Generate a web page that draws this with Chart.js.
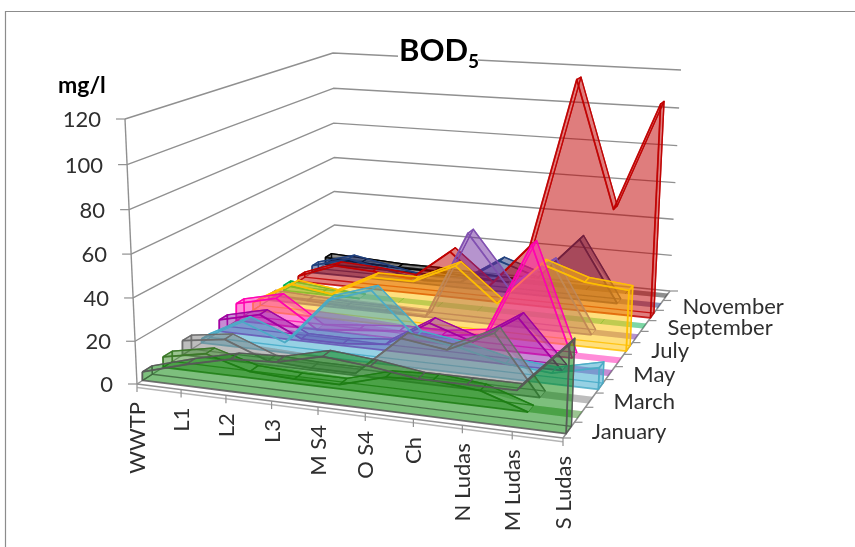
<!DOCTYPE html>
<html>
<head>
<meta charset="utf-8">
<title>BOD5</title>
<script src="https://cdn.jsdelivr.net/npm/chart.js@4"></script>
<style>
html, body { margin: 0; background: #fff; }
canvas { display: block; }
</style>
</head>
<body>
<canvas id="myChart" width="855" height="547"></canvas>
<script>
// Data
var categories = ['WWTP', 'L1', 'L2', 'L3', 'M S4', 'O S4', 'Ch', 'N Ludas', 'M Ludas', 'S Ludas'];
var monthNames = ['January', 'March', 'May', 'July', 'September', 'November'];
var valueTicks = [0, 20, 40, 60, 80, 100, 120];

var january   = [4, 10, 15, 16, 21, 19, 16, 16, 16, 38];
var february  = [5, 9, 3, 2, 2, 8, 9, 7, 0, 0];
var march     = [7, 10, 2, 1, 1, 20, 17, 27, 0, 0];
var april     = [2, 13, 5, 28, 35, 15, 12, 7, 5, 10];
var may       = [6, 11, 1, 1, 3, 16, 9, 23, 0, 0];
var june      = [9, 14, 0, 2, 4, 4, 7, 53, 0, 0];
var july      = [4, 16, 13, 24, 24, 34, 17, 39, 32, 30];
var august    = [3, 2, 1, 1, 0, 46, 20, 35, 0, 0];
var september = [3, 1, 0, 0, 0, 0, 0, 0, 0, 0];
var october   = [3, 11, 10, 8, 25, 8, 32, 120, 55, 110];
var november  = [4, 10, 6, 2, 3, 17, 10, 33, 0, 0];
var december  = [4, 3, 2, 2, 1, 0, 0, 0, 0, 0];

var allSeries = [january, february, march, april, may, june, july, august, september, october, november, december];

// Fill and border colour of each month, front to back
var seriesFill = ['0,128,0', '60,140,40', '127,127,127', '49,165,201', '143,31,168', '255,31,180',
                  '255,192,0', '112,48,160', '0,176,80', '192,0,0', '31,50,120', '38,38,38'];
var seriesLine = ['89,89,89', '60,120,40', '107,107,107', '75,172,198', '160,0,160', '255,0,176',
                  '255,192,0', '128,80,176', '0,176,80', '192,0,0', '31,63,125', '0,0,0'];

// Corners of the 3D box in the picture: front left, front right, back right, back left
var floorBox = [[137, 384], [563, 438], [670, 291], [335, 258]];
var topBox = [[125, 119], [574, 146], [681, 70], [333, 53]];
var maxValue = 120;
var bandHalf = 0.23;

// Unit square to quadrilateral mapping
function makeMap(q) {
    var dx1 = q[1][0] - q[2][0], dx2 = q[3][0] - q[2][0], sx = q[0][0] - q[1][0] + q[2][0] - q[3][0];
    var dy1 = q[1][1] - q[2][1], dy2 = q[3][1] - q[2][1], sy = q[0][1] - q[1][1] + q[2][1] - q[3][1];
    var d = dx1 * dy2 - dx2 * dy1;
    var g = (sx * dy2 - dx2 * sy) / d, h = (dx1 * sy - sx * dy1) / d;
    var a = q[1][0] - q[0][0] + g * q[1][0], b = q[3][0] - q[0][0] + h * q[3][0];
    var e = q[1][1] - q[0][1] + g * q[1][1], f = q[3][1] - q[0][1] + h * q[3][1];
    return function(u, v) {
        var w = g * u + h * v + 1;
        return [(a * u + b * v + q[0][0]) / w, (e * u + f * v + q[0][1]) / w];
    };
}
var floorMap = makeMap(floorBox);
var topMap = makeMap(topBox);

// category position (0-9), depth (0-1), value -> point on the canvas
function project(cat, depth, value) {
    var u = cat / (categories.length - 1);
    var p = floorMap(u, depth), t = topMap(u, depth), r = value / maxValue;
    var k = r / (r + (1 - r) * 1.04); // the value axis is slightly foreshortened too
    return { x: p[0] + (t[0] - p[0]) * k, y: p[1] + (t[1] - p[1]) * k };
}

var datasets = [];

function addShape(points, fill, line, width) {
    datasets.push({
        data: points,
        showLine: true,
        fill: fill ? 'shape' : false,
        backgroundColor: fill || 'transparent',
        borderColor: line || 'transparent',
        borderWidth: width,
        pointRadius: 0,
        tension: 0,
        borderJoinStyle: 'round',
        // where a month is zero there is only a flat stripe, without an outline
        segment: {
            borderColor: function(c) {
                return c.p0.raw.flat && c.p1.raw.flat ? 'transparent' : undefined;
            }
        }
    });
}

// Point that remembers whether its month has no height there
function mark(cat, depth, value, zero) {
    var p = project(cat, depth, value);
    p.flat = zero;
    return p;
}

// Outline of one area at a given depth
function faceOutline(values, depth) {
    var pts = [];
    values.forEach(function(val, i) { pts.push(mark(i, depth, val, val === 0)); });
    for (var i = values.length - 1; i >= 0; i--) {
        pts.push(mark(i, depth, 0, values[i] === 0));
    }
    pts.push(pts[0]);
    return pts;
}

// Chart.js paints the first dataset last, so go from front to back
allSeries.forEach(function(values, m) {
    var front = (m + 0.5 - bandHalf) / allSeries.length;
    var back = (m + 0.5 + bandHalf) / allSeries.length;
    var fill = 'rgba(' + seriesFill[m] + ',0.3)';
    var edge = 'rgba(' + seriesLine[m] + ',0.85)';
    var last = values.length - 1;

    addShape(faceOutline(values, front), fill, edge, 1.8);
    addShape([mark(last, front, 0, values[last] === 0), mark(last, front, values[last], values[last] === 0),
              mark(last, back, values[last], values[last] === 0), mark(last, back, 0, values[last] === 0),
              mark(last, front, 0, values[last] === 0)], fill, edge, 1.3);
    for (var i = 0; i < last; i++) {
        var z0 = values[i] === 0, z1 = values[i + 1] === 0;
        addShape([mark(i, front, values[i], z0), mark(i + 1, front, values[i + 1], z1), mark(i + 1, back, values[i + 1], z1),
                  mark(i, back, values[i], z0), mark(i, front, values[i], z0)], fill, edge, 1.3);
        if (z0) addShape([project(i, front, 0), project(i, back, 0)], null, 'rgba(' + seriesLine[m] + ',0.6)', 1);
    }
    addShape(faceOutline(values, back), fill, edge, 1.3);
    addShape([project(0, front, 0), project(0, front, values[0]), project(0, back, values[0]),
              project(0, back, 0), project(0, front, 0)], fill, edge, 1.3);
    addShape([project(0, front, 0), project(last, front, 0), project(last, back, 0),
              project(0, back, 0), project(0, front, 0)], fill, null, 0);
});

// Walls and floor, painted behind everything
var gridColor = '#909090';
valueTicks.forEach(function(val) {
    addShape([project(0, 0, val), project(0, 1, val), project(categories.length - 1, 1, val)], null, gridColor, 1.4);
});
addShape([project(0, 0, 0), project(0, 0, maxValue)], null, gridColor, 1.4);
addShape([project(0, 0, 0), project(9, 0, 0), project(9, 1, 0)], null, gridColor, 1.5);
addShape([project(0, 0, -1.6), project(9, 0, -1.6)], null, '#b5b5b5', 1.5);

var textColor = '#2f2f2f';
var labelFont = '22px Lato, "Open Sans", sans-serif';

// Axis labels and ticks follow the projected box
var boxText = {
    id: 'boxText',
    afterDatasetsDraw: function(chart) {
        var ctx = chart.ctx;
        ctx.save();
        ctx.strokeStyle = gridColor;
        ctx.lineWidth = 1.2;
        ctx.fillStyle = textColor;
        ctx.font = labelFont;

        // value axis
        ctx.textAlign = 'right';
        ctx.textBaseline = 'middle';
        valueTicks.forEach(function(val) {
            var p = project(0, 0, val);
            ctx.beginPath();
            ctx.moveTo(p.x, p.y);
            ctx.lineTo(p.x - 9, p.y);
            ctx.stroke();
            ctx.fillText(String(val), p.x - 24, p.y + 1);
        });

        // category axis
        categories.forEach(function(name, i) {
            var p = project(i, 0, 0);
            ctx.beginPath();
            ctx.moveTo(p.x, p.y);
            ctx.lineTo(p.x, p.y + 8);
            ctx.stroke();
            ctx.save();
            ctx.translate(p.x, p.y + 18);
            ctx.rotate(-Math.PI / 2);
            ctx.textAlign = 'right';
            ctx.textBaseline = 'middle';
            ctx.fillText(name, 0, 1);
            ctx.restore();
        });

        // depth axis
        for (var m = 0; m <= allSeries.length; m++) {
            var q = project(9, m / allSeries.length, 0);
            ctx.beginPath();
            ctx.moveTo(q.x, q.y);
            ctx.lineTo(q.x + 8, q.y);
            ctx.stroke();
        }
        ctx.textAlign = 'left';
        monthNames.forEach(function(name, i) {
            var q = project(9, (2 * i + 0.5) / allSeries.length, 0);
            ctx.fillText(name, q.x + 23, q.y + 2);
        });

        // title and unit
        ctx.fillStyle = '#ffffff';
        ctx.fillRect(398, 36, 80, 34);
        ctx.fillStyle = '#000000';
        ctx.font = 'bold 31px Lato, sans-serif';
        ctx.fillText('BOD', 399, 51);
        var w = ctx.measureText('BOD').width;
        ctx.font = 'bold 19px Lato, sans-serif';
        ctx.fillText('5', 399 + w, 62);
        ctx.font = 'bold 23px Lato, sans-serif';
        ctx.fillText('mg/l', 58, 86);

        // picture frame
        ctx.strokeStyle = '#8c8c8c';
        ctx.lineWidth = 1.2;
        ctx.beginPath();
        ctx.moveTo(5.5, 547);
        ctx.lineTo(5.5, 11.5);
        ctx.lineTo(855, 11.5);
        ctx.stroke();
        ctx.restore();
    }
};

var ctx = document.getElementById('myChart').getContext('2d');
var chart = new Chart(ctx, {
    type: 'scatter',
    data: { datasets: datasets },
    plugins: [boxText],
    options: {
        responsive: false,
        animation: false,
        layout: { padding: 0 },
        plugins: { legend: { display: false }, tooltip: { enabled: false }, title: { display: false } },
        scales: {
            x: { type: 'linear', display: false, min: 0, max: 855 },
            y: { type: 'linear', display: false, min: 0, max: 547, reverse: true }
        }
    }
});
</script>
</body>
</html>
